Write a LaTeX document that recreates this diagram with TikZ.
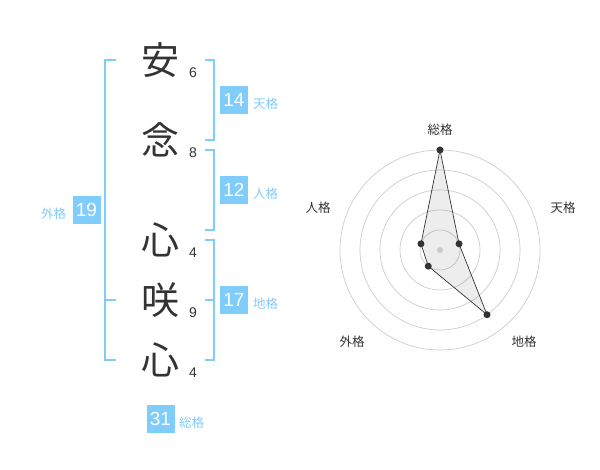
\documentclass[tikz,border=0pt]{standalone}
\usepackage{fontspec}
\usetikzlibrary{calc}
\setmainfont{Liberation Sans}
\newfontfamily\jp{Noto Sans CJK JP}
\definecolor{kblue}{RGB}{128,204,250}
\definecolor{kdark}{RGB}{51,51,51}
\definecolor{kgrid}{RGB}{204,204,204}
\begin{document}
\begin{tikzpicture}[x=1pt,y=-1pt,
  kanji/.style={font=\jp\fontsize{38}{38}\selectfont, text=kdark, inner sep=0pt},
  stroke/.style={font=\fontsize{14}{14}\selectfont, text=kdark, inner sep=0pt},
  numbox/.style={fill=kblue, text=white, minimum width=28pt, minimum height=28pt, inner sep=0pt, font=\fontsize{19}{19}\selectfont},
  kaku/.style={font=\jp\fontsize{12.5}{12.5}\selectfont, text=kblue, inner sep=0pt},
  bracket/.style={draw=kblue, line width=2pt},
  rlabel/.style={font=\jp\fontsize{12.5}{12.5}\selectfont, text=kdark, inner sep=0pt},
  grid/.style={draw=kgrid, line width=0.7pt},
  dot/.style={circle, fill=kdark, inner sep=0pt, minimum size=7pt}]
\useasboundingbox (0,0) rectangle (600,470);

% characters
\node[kanji] (c1) at (160,60) {安};
\node[kanji] (c2) at (160,140) {念};
\node[kanji] (c3) at (160,240) {心};
\node[kanji] (c4) at (160,300) {咲};
\node[kanji] (c5) at (160,360) {心};
\node[stroke] (s1) at (193,73) {6};
\node[stroke] (s2) at (193,153) {8};
\node[stroke] (s3) at (193,253) {4};
\node[stroke] (s4) at (193,313) {9};
\node[stroke] (s5) at (193,373) {4};

% brackets
\coordinate (lt) at (116,60); \coordinate (lb) at (116,360); \coordinate (lm) at (116,300);
\draw[bracket] (lt) -| (105,360) -- (lb);
\draw[bracket] (105,300) -- (lm);
\coordinate (t1) at (205,60); \coordinate (t2) at (205,140);
\draw[bracket] (t1) -| (214,140) -- (t2);
\coordinate (j1) at (205,150); \coordinate (j2) at (205,230);
\draw[bracket] (j1) -| (214,230) -- (j2);
\coordinate (g1) at (205,240); \coordinate (g2) at (205,360); \coordinate (gm) at (205,300);
\draw[bracket] (g1) -| (214,360) -- (g2);
\draw[bracket] (gm) -- (214,300);

% boxes and labels
\node[numbox] (ten) at (234,100) {14};
\node[kaku, anchor=west] (tenl) at (253,104) {天格};
\node[numbox] (jin) at (234,190) {12};
\node[kaku, anchor=west] (jinl) at (253,194) {人格};
\node[numbox] (chi) at (234,300) {17};
\node[kaku, anchor=west] (chil) at (253,304) {地格};
\node[numbox] (gai) at (86.5,210) {19};
\node[kaku] (gail) at (53.5,213.5) {外格};
\node[numbox] (sou) at (160.5,419) {31};
\node[kaku, anchor=west] (soul) at (179,423) {総格};

% radar
\coordinate (rc) at (440,250);
\foreach \r in {20,40,60,80,100} \draw[grid] (rc) circle (\r);
\coordinate (p1) at ($(rc)+(-90:100)$);
\coordinate (p2) at ($(rc)+(-18:20)$);
\coordinate (p3) at ($(rc)+(54:80)$);
\coordinate (p4) at ($(rc)+(126:20)$);
\coordinate (p5) at ($(rc)+(198:20)$);
\draw[kdark, line width=0.7pt, fill=black, fill opacity=0.07] (p1) -- (p2) -- (p3) -- (p4) -- (p5) -- cycle;
\node[circle, fill=kgrid, inner sep=0pt, minimum size=6pt] (cen) at (rc) {};
\foreach \p in {p1,p2,p3,p4,p5} \node[dot] at (\p) {};
\node[rlabel] (r1) at (440,130) {総格};
\node[rlabel] (r2) at (563,208) {天格};
\node[rlabel] (r3) at (524,342) {地格};
\node[rlabel] (r4) at (352,342) {外格};
\node[rlabel] (r5) at (318,208) {人格};
\end{tikzpicture}
\end{document}
